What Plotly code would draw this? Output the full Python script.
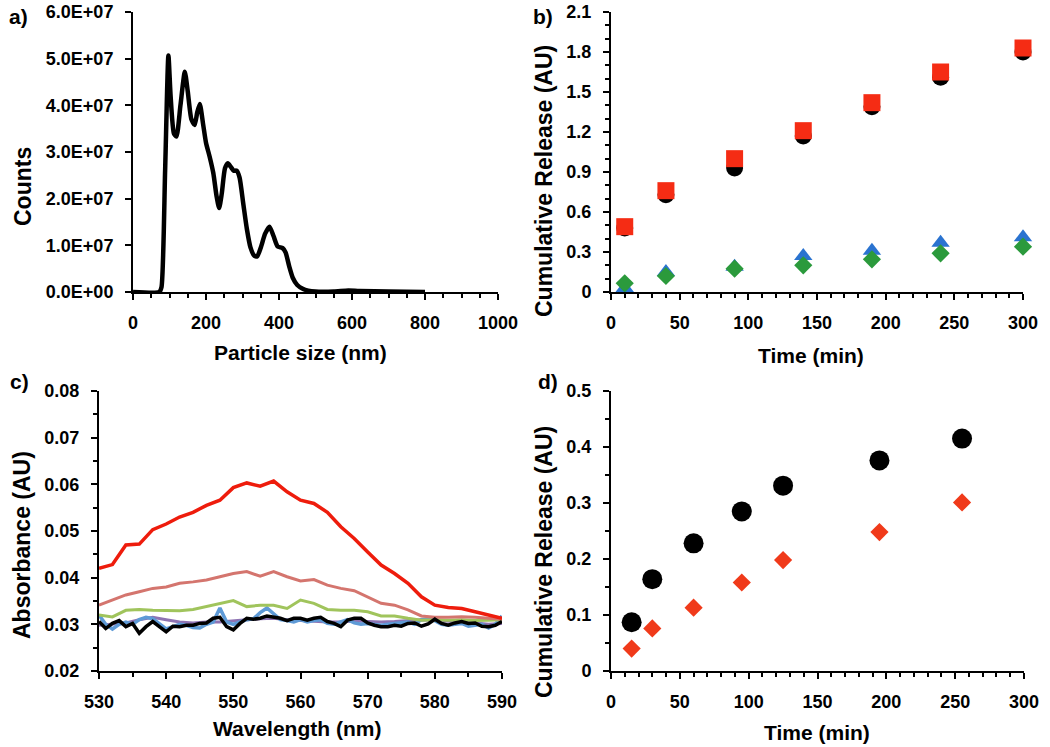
import plotly.graph_objects as go

# ---------- data ----------
# a) particle size distribution
size_nm = [0, 72, 78, 88, 97, 103, 112, 119, 130, 142, 150, 160, 169, 176, 183, 192, 200, 210, 220, 229,
           236, 243, 252, 260, 268, 276, 284, 292, 302, 312, 322, 332, 340, 350, 362, 374, 385, 396, 410,
           418, 428, 438, 450, 465, 480, 500, 550, 590, 620, 700, 800]
counts = [0, 0, 0.1e7, 2.6e7, 5.07e7, 4.2e7, 3.4e7, 3.33e7, 4.0e7, 4.72e7, 4.3e7, 3.7e7, 3.58e7, 3.85e7,
          4.03e7, 3.6e7, 3.2e7, 2.9e7, 2.55e7, 2.05e7, 1.8e7, 2.1e7, 2.65e7, 2.76e7, 2.68e7, 2.6e7, 2.6e7,
          2.45e7, 1.9e7, 1.35e7, 0.95e7, 0.78e7, 0.76e7, 0.95e7, 1.25e7, 1.4e7, 1.2e7, 0.98e7, 0.94e7,
          0.85e7, 0.55e7, 0.3e7, 0.15e7, 0.07e7, 0.03e7, 0.01e7, 0.01e7, 0.03e7, 0.02e7, 0.01e7, 0]
a_yticks = [0, 1e7, 2e7, 3e7, 4e7, 5e7, 6e7]
a_yticktext = ["0.0E+00", "1.0E+07", "2.0E+07", "3.0E+07", "4.0E+07", "5.0E+07", "6.0E+07"]

# b) cumulative release
time_b = [10, 40, 90, 140, 190, 240, 300]
b_black = [0.48, 0.73, 0.93, 1.17, 1.39, 1.61, 1.80]
b_red = [0.49, 0.76, 1.00, 1.21, 1.42, 1.65, 1.83]
b_blue = [0.03, 0.15, 0.19, 0.27, 0.31, 0.37, 0.41]
b_green = [0.065, 0.12, 0.175, 0.20, 0.245, 0.29, 0.34]

# c) absorbance spectra
wl_2nm = list(range(530, 591, 2))
wl_1nm = list(range(530, 591))
c_red = [0.042, 0.0428, 0.0470, 0.0472, 0.0503, 0.0515, 0.0530, 0.0540, 0.0555, 0.0566, 0.0593, 0.0603,
         0.0596, 0.0607, 0.0584, 0.0566, 0.0559, 0.0540, 0.0509, 0.0484, 0.0455, 0.0427, 0.0409, 0.0388,
         0.0359, 0.0341, 0.0336, 0.0334, 0.0327, 0.0320, 0.0313]
c_pink = [0.0341, 0.0352, 0.0363, 0.0370, 0.0377, 0.0380, 0.0388, 0.0391, 0.0395, 0.0402, 0.0409, 0.0413,
          0.0403, 0.0413, 0.0402, 0.0393, 0.0396, 0.0384, 0.0377, 0.0372, 0.0359, 0.0345, 0.0341, 0.0331,
          0.0318, 0.0315, 0.0315, 0.0316, 0.0315, 0.0313, 0.0311]
c_green = [0.0320, 0.0316, 0.0330, 0.0332, 0.0330, 0.0329, 0.0329, 0.0332, 0.0338, 0.0345, 0.0351, 0.0338,
           0.0341, 0.0341, 0.0334, 0.0352, 0.0345, 0.0332, 0.0330, 0.0330, 0.0327, 0.0318, 0.0318, 0.0313,
           0.0309, 0.0310, 0.0309, 0.0310, 0.0308, 0.0309, 0.0310]
c_purple = [0.0298, 0.0300, 0.0303, 0.0310, 0.0315, 0.0310, 0.0305, 0.0303, 0.0305, 0.0305, 0.0308, 0.0310,
            0.0312, 0.0313, 0.0310, 0.0308, 0.0307, 0.0305, 0.0305, 0.0307, 0.0306, 0.0305, 0.0306, 0.0308,
            0.0310, 0.0309, 0.0307, 0.0306, 0.0303, 0.0300, 0.0302]
c_blue = [0.0320, 0.0300, 0.0290, 0.0300, 0.0305, 0.0300, 0.0310, 0.0315, 0.0312, 0.0300, 0.0290, 0.0295,
          0.0300, 0.0298, 0.0293, 0.0292, 0.0300, 0.0305, 0.0335, 0.0305, 0.0300, 0.0305, 0.0310, 0.0312,
          0.0325, 0.0335, 0.0322, 0.0310, 0.0308, 0.0305, 0.0310, 0.0305, 0.0308, 0.0310, 0.0302, 0.0300,
          0.0305, 0.0310, 0.0303, 0.0300, 0.0302, 0.0300, 0.0298, 0.0300, 0.0302, 0.0303, 0.0305, 0.0300,
          0.0310, 0.0312, 0.0308, 0.0300, 0.0298, 0.0300, 0.0302, 0.0296, 0.0298, 0.0300, 0.0292, 0.0300,
          0.0318]
c_black = [0.0306, 0.0291, 0.0302, 0.0308, 0.0295, 0.0302, 0.0281, 0.0295, 0.0306, 0.0295, 0.0284, 0.0296,
           0.0295, 0.0298, 0.0298, 0.0302, 0.0303, 0.0313, 0.0315, 0.0295, 0.0288, 0.0302, 0.0313, 0.0311,
           0.0313, 0.0318, 0.0316, 0.0313, 0.0308, 0.0313, 0.0313, 0.0309, 0.0313, 0.0315, 0.0306, 0.0302,
           0.0295, 0.0309, 0.0313, 0.0313, 0.0303, 0.0298, 0.0295, 0.0295, 0.0298, 0.0296, 0.0302, 0.0303,
           0.0296, 0.0301, 0.0311, 0.0302, 0.0298, 0.0303, 0.0306, 0.0302, 0.0303, 0.0296, 0.0295, 0.0298,
           0.0306]

# d) cumulative release
time_d = [15, 30, 60, 95, 125, 195, 255]
d_black = [0.087, 0.164, 0.228, 0.285, 0.331, 0.376, 0.415]
d_red = [0.040, 0.076, 0.113, 0.158, 0.198, 0.248, 0.301]

# ---------- figure ----------
W, H = 1050, 747
FONT = "Liberation Sans, Arial, sans-serif"

def px_x(p):
    return p / W

def px_y(p):
    return 1 - p / H

fig = go.Figure()

fig.add_trace(go.Scatter(x=size_nm, y=counts, mode="lines", line=dict(color="black", width=4.5, shape="spline", smoothing=0.6),
                         xaxis="x", yaxis="y", showlegend=False))

for yv, sym, col, sz in [(b_black, "circle", "black", 17), (b_red, "square", "#f52c14", 17),
                         (b_blue, "triangle-up", "#2a73d0", 16), (b_green, "diamond", "#2b9a3c", 14)]:
    fig.add_trace(go.Scatter(x=time_b, y=yv, mode="markers", marker=dict(symbol=sym, color=col, size=sz, line=dict(width=0)),
                             xaxis="x2", yaxis="y2", showlegend=False, cliponaxis=False))

for xv, yv, col, w in [(wl_2nm, c_purple, "#8e73b3", 3), (wl_1nm, c_blue, "#5e9ad6", 3.5),
                       (wl_2nm, c_green, "#a0c45c", 3), (wl_2nm, c_pink, "#d4756e", 3),
                       (wl_2nm, c_red, "#ee1c0c", 3.5), (wl_1nm, c_black, "black", 3.5)]:
    fig.add_trace(go.Scatter(x=xv, y=yv, mode="lines", line=dict(color=col, width=w),
                             xaxis="x3", yaxis="y3", showlegend=False))

fig.add_trace(go.Scatter(x=time_d, y=d_black, mode="markers", marker=dict(symbol="circle", color="black", size=20),
                         xaxis="x4", yaxis="y4", showlegend=False, cliponaxis=False))
fig.add_trace(go.Scatter(x=time_d, y=d_red, mode="markers", marker=dict(symbol="diamond", color="#f03a1a", size=14),
                         xaxis="x4", yaxis="y4", showlegend=False, cliponaxis=False))

tickfont = dict(family=FONT, size=18, color="black", weight="bold")

def xax(dom, rng, dtick, minor, anchor):
    return dict(domain=dom, range=rng, dtick=dtick, tick0=rng[0], showline=True, linecolor="black", linewidth=2,
                ticks="outside", ticklen=6, tickwidth=2, tickcolor="black", showgrid=False, zeroline=False,
                tickfont=tickfont, ticklabelstandoff=7, anchor=anchor, automargin=False,
                minor=dict(dtick=minor, ticks="outside", ticklen=4, tickwidth=1.5, tickcolor="black", showgrid=False))

def yax(dom, rng, dtick, minor, anchor, **kw):
    d = dict(domain=dom, range=rng, dtick=dtick, tick0=rng[0], showline=True, linecolor="black", linewidth=2,
             ticks="outside", ticklen=6, tickwidth=2, tickcolor="black", showgrid=False, zeroline=False,
             tickfont=tickfont, ticklabelstandoff=8, anchor=anchor, automargin=False)
    if minor:
        d["minor"] = dict(dtick=minor, ticks="outside", ticklen=4, tickwidth=1.5, tickcolor="black", showgrid=False)
    d.update(kw)
    return d

top = [px_y(292), px_y(12)]
bot = [px_y(671), px_y(391)]

fig.update_layout(
    width=W, height=H, margin=dict(l=0, r=0, t=0, b=0, autoexpand=False),
    paper_bgcolor="white", plot_bgcolor="white",
    xaxis=xax([px_x(133), px_x(498)], [0, 1000], 200, 50, "y"),
    yaxis=yax(top, [0, 6e7], None, None, "x", tickmode="array", tickvals=a_yticks, ticktext=a_yticktext),
    xaxis2=xax([px_x(611), px_x(1023)], [0, 300], 50, 10, "y2"),
    yaxis2=yax(top, [0, 2.1], 0.3, 0.1, "x2"),
    xaxis3=xax([px_x(99), px_x(502)], [530, 590], 10, 5, "y3"),
    yaxis3=yax(bot, [0.02, 0.08], 0.01, 0.005, "x3"),
    xaxis4=xax([px_x(611), px_x(1024)], [0, 300], 50, 10, "y4"),
    yaxis4=yax(bot, [0, 0.5], 0.1, 0.05, "x4"),
)

titles = [
    ("Counts", 23, 187, -90), ("Particle size (nm)", 300, 352, 0),
    ("Cumulative Release (AU)", 544, 181, -90), ("Time (min)", 811, 355, 0),
    ("Absorbance (AU)", 22, 545, -90), ("Wavelength (nm)", 297, 728, 0),
    ("Cumulative Release (AU)", 544, 562, -90), ("Time (min)", 817, 732, 0),
]
for txt, x, y, ang in titles:
    fig.add_annotation(text=txt, x=px_x(x), y=px_y(y), xref="paper", yref="paper", showarrow=False,
                       textangle=ang, xanchor="center", yanchor="middle",
                       font=dict(family=FONT, size=23 if ang else 21, color="black", weight="bold"))

for txt, x, y in [("a)", 18, 16), ("b)", 543, 16), ("c)", 19, 381), ("d)", 548, 381)]:
    fig.add_annotation(text=txt, x=px_x(x), y=px_y(y), xref="paper", yref="paper", showarrow=False,
                       xanchor="center", yanchor="middle",
                       font=dict(family=FONT, size=21, color="black", weight="bold"))

fig.write_html("out.html", config={"displayModeBar": False},
               post_script="document.body.style.margin='0';document.body.style.padding='0';")
